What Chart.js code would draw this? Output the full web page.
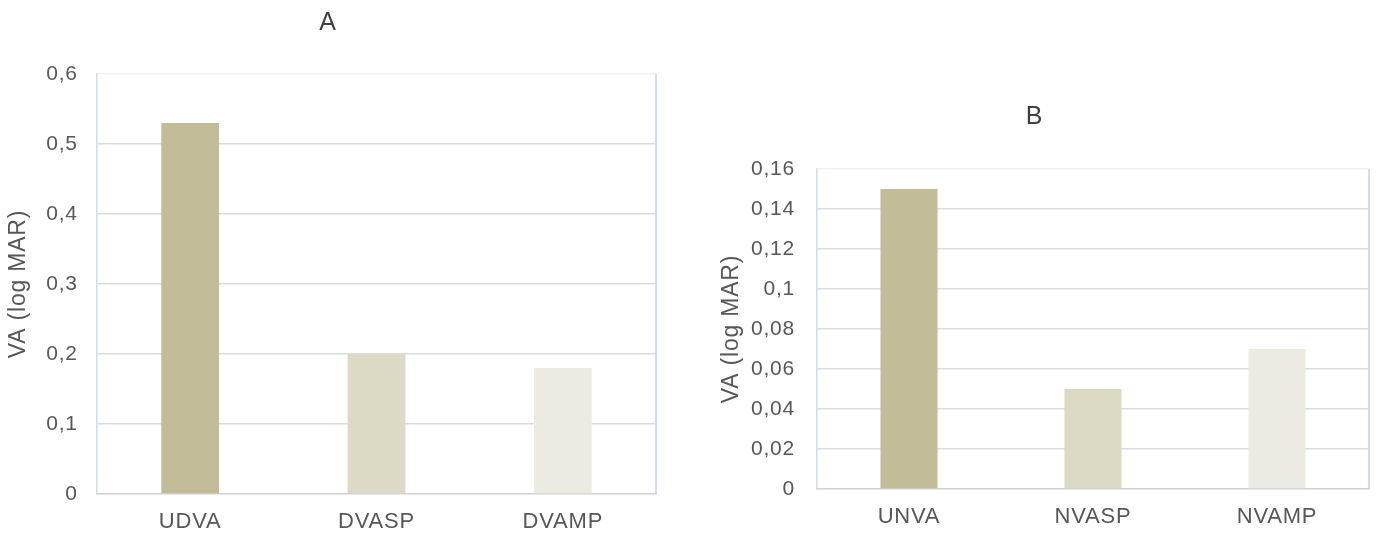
<!DOCTYPE html>
<html>
<head>
<meta charset="utf-8">
<script src="https://cdn.jsdelivr.net/npm/chart.js@4"></script>
<style>
  html, body { margin: 0; padding: 0; background: #fff; }
  body { width: 1386px; height: 544px; position: relative; overflow: hidden; }
  .box { position: absolute; top: 0; height: 544px; }
  #boxA { left: 0; width: 680px; }
  #boxB { left: 700px; width: 686px; }
</style>
</head>
<body>
<div class="box" id="boxA"><canvas id="chartA"></canvas></div>
<div class="box" id="boxB"><canvas id="chartB"></canvas></div>
<script>
// distance VA
const labelsA = ["UDVA", "DVASP", "DVAMP"];
const valuesA = [0.53, 0.2, 0.18];
const yTicksA = ["0", "0,1", "0,2", "0,3", "0,4", "0,5", "0,6"];

// near VA
const labelsB = ["UNVA", "NVASP", "NVAMP"];
const valuesB = [0.15, 0.05, 0.07];
const yTicksB = ["0", "0,02", "0,04", "0,06", "0,08", "0,1", "0,12", "0,14", "0,16"];

const barColors = ["#c2bc98", "#dcd9c4", "#ecebe1"];
const FONT = "'Liberation Sans', Arial, sans-serif";
const SPACING = "0.8px";

// slightly loose text like the original; canvas state resets on resize so set it each time
const spacingPlugin = {
  id: "spacing",
  beforeUpdate(chart) { chart.ctx.letterSpacing = SPACING; },
  beforeDraw(chart) { chart.ctx.letterSpacing = SPACING; },
};

// right frame line of the plot area
const framePlugin = {
  id: "frame",
  afterDraw(chart) {
    const { ctx, chartArea: a } = chart;
    ctx.save();
    ctx.lineWidth = 1.5;
    ctx.strokeStyle = "#c9d1ea";
    ctx.beginPath();
    ctx.moveTo(a.right, a.top);
    ctx.lineTo(a.right, a.bottom);
    ctx.stroke();
    ctx.restore();
  },
};

function makeChart(id, labels, values, tickLabels, opts) {
  const ctx = document.getElementById(id).getContext("2d");
  const last = tickLabels.length - 1;
  return new Chart(ctx, {
    type: "bar",
    data: {
      labels: labels,
      datasets: [{
        data: values,
        backgroundColor: barColors,
        borderWidth: 0,
        categoryPercentage: 1,
        barPercentage: 0.31,
      }],
    },
    options: {
      responsive: true,
      maintainAspectRatio: false,
      animation: false,
      layout: { padding: { left: 0, right: opts.padRight, top: 0, bottom: 0 } },
      plugins: {
        legend: { display: false },
        tooltip: { enabled: false },
        title: {
          display: true,
          text: opts.title,
          color: "#3f3f3f",
          font: { family: FONT, size: 25, weight: "normal" },
          padding: { top: opts.titleTop, bottom: opts.titleBottom },
        },
      },
      scales: {
        x: {
          grid: { display: false, drawTicks: false },
          border: { display: true, color: "#d2d2d2", width: 1.5 },
          ticks: { color: "#575757", font: { family: FONT, size: 22 }, padding: 14.5 },
          afterFit: (s) => { s.height = opts.xHeight; },
        },
        y: {
          min: 0,
          max: opts.max,
          ticks: {
            stepSize: opts.step,
            color: "#575757",
            font: { family: FONT, size: 21 },
            padding: opts.tickPad,
            callback: (v, i) => tickLabels[i],
          },
          grid: {
            drawTicks: false,
            lineWidth: 1.5,
            color: (c) => (c.index === last ? "#f1f1f1" : c.index === 0 ? "rgba(0,0,0,0)" : "#d9dce4"),
          },
          border: { display: true, color: "#d3d9ee", width: 1.5 },
          title: {
            display: true,
            text: "VA (log MAR)",
            color: "#575757",
            font: { family: FONT, size: 23 },
            padding: { top: opts.axisTitlePad, bottom: 0 },
          },
          afterFit: (s) => { s.width = opts.yWidth; },
        },
      },
    },
    plugins: [spacingPlugin, framePlugin],
  });
}

makeChart("chartA", labelsA, valuesA, yTicksA, {
  title: "A", max: 0.6, step: 0.1,
  padRight: 24, titleTop: 8, titleBottom: 36,
  xHeight: 50, yWidth: 97, tickPad: 19.2, axisTitlePad: 4.7,
});

makeChart("chartB", labelsB, valuesB, yTicksB, {
  title: "B", max: 0.16, step: 0.02,
  padRight: 17, titleTop: 102, titleBottom: 37,
  xHeight: 55, yWidth: 117, tickPad: 22, axisTitlePad: 18,
});
</script>
</body>
</html>
